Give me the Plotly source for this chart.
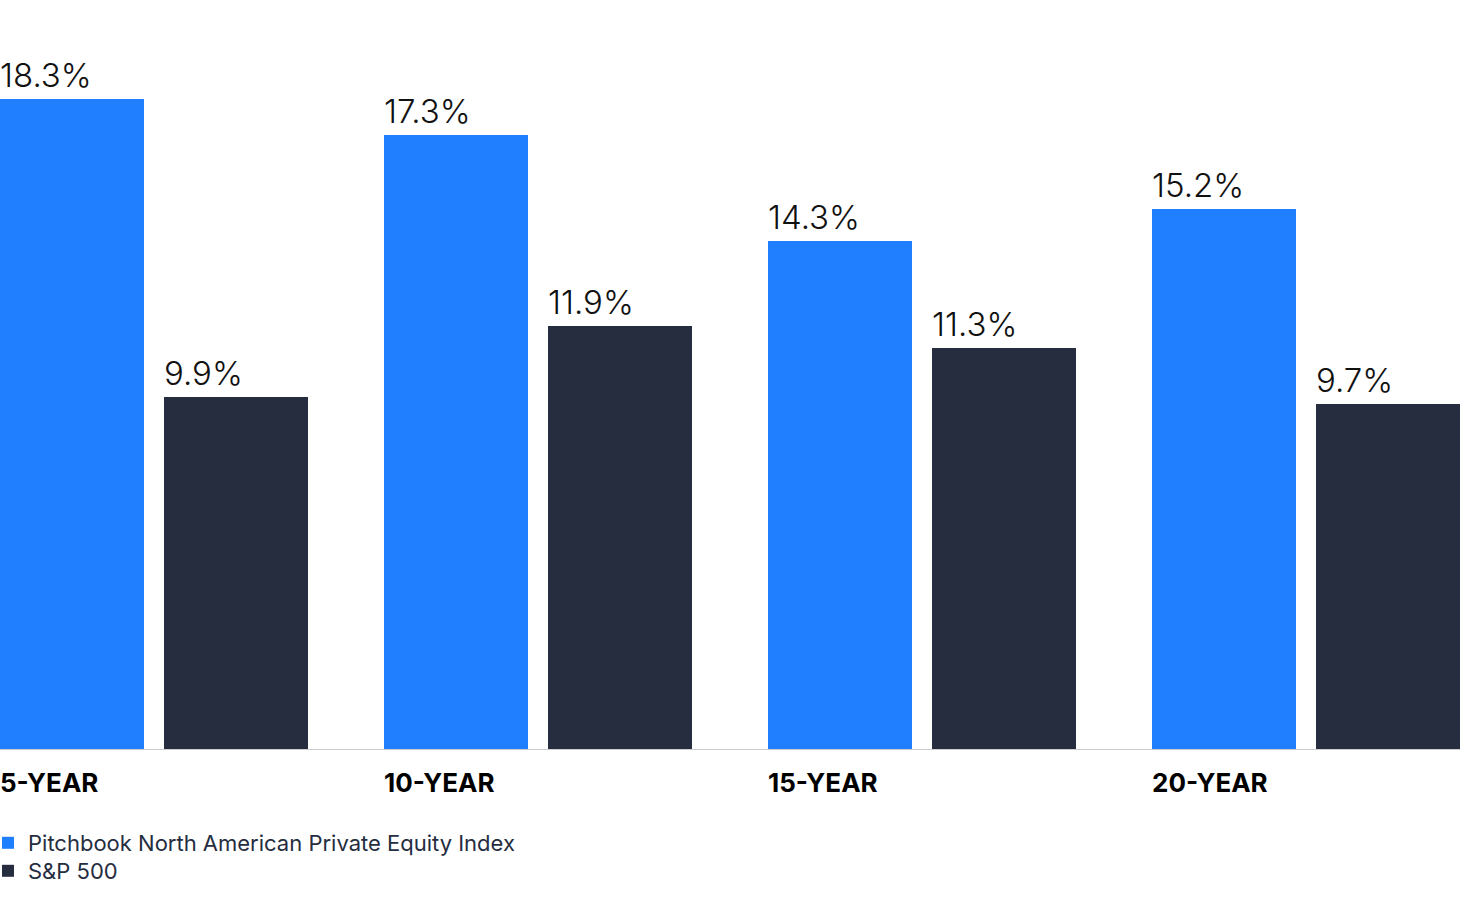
import plotly.graph_objects as go

# --- DATA ---
periods = ["5-YEAR", "10-YEAR", "15-YEAR", "20-YEAR"]
pe_index = [18.3, 17.3, 14.3, 15.2]
sp500 = [9.9, 11.9, 11.3, 9.7]
series_names = ["Pitchbook North American Private Equity Index", "S&P 500"]

BLUE = "#1F7FFF"
DARK = "#252D3F"
FONT = "Inter"

# group pitch = 1 unit (384px), bar = 144px, gap between pair = 20px
bar_w = 144 / 384
dark_off = 164 / 384
x_pos = list(range(len(periods)))

fig = go.Figure()
fig.add_trace(go.Bar(x=x_pos, y=pe_index, width=bar_w, offset=0, legend="legend",
                     marker=dict(color=BLUE, line=dict(width=0)), name=series_names[0]))
fig.add_trace(go.Bar(x=x_pos, y=sp500, width=bar_w, offset=dark_off, legend="legend2",
                     marker=dict(color=DARK, line=dict(width=0)), name=series_names[1]))

# value labels, left aligned on each bar
for i, (a, b) in enumerate(zip(pe_index, sp500)):
    for xv, yv in ((i, a), (i + dark_off, b)):
        fig.add_annotation(x=xv, y=yv, text=f"{yv}%", xref="x", yref="y",
                           xanchor="left", yanchor="bottom", showarrow=False,
                           xshift=-2, yshift=2,
                           font=dict(family=FONT, size=33, color="#111111", weight=300))

# category labels, left aligned under each group
for i, p in enumerate(periods):
    fig.add_annotation(x=i, y=0, text=f"<b>{p}</b>", xref="x", yref="y",
                       xanchor="left", yanchor="middle", showarrow=False,
                       xshift=-2, yshift=-33,
                       font=dict(family=FONT, size=26, color="#000000"))

leg_style = dict(xanchor="left", yanchor="middle",
                 font=dict(family=FONT, size=22, color=DARK),
                 bgcolor="rgba(0,0,0,0)", borderwidth=0)

fig.update_layout(
    width=1460, height=901,
    margin=dict(l=0, r=0, t=0, b=152, autoexpand=False),
    paper_bgcolor="white", plot_bgcolor="white",
    showlegend=True,
    legend=dict(x=-12 / 1460, y=(901 - 843) / 901, yref="container", **leg_style),
    legend2=dict(x=-12 / 1460, y=(901 - 871) / 901, yref="container", **leg_style),
    xaxis=dict(range=[0, 1460 / 384], showticklabels=False, showgrid=False,
               zeroline=False, showline=True, linecolor="#CCCCCC", linewidth=1,
               fixedrange=True),
    yaxis=dict(range=[0, 18.3 * 749 / 650], showticklabels=False, showgrid=False,
               zeroline=False, showline=False, fixedrange=True),
    bargap=0,
)

# drop the default page margin so the chart sits flush with the window
fig.write_html("out.html", config={"displayModeBar": False},
               post_script="document.body.style.margin='0';document.body.style.overflow='hidden';")
